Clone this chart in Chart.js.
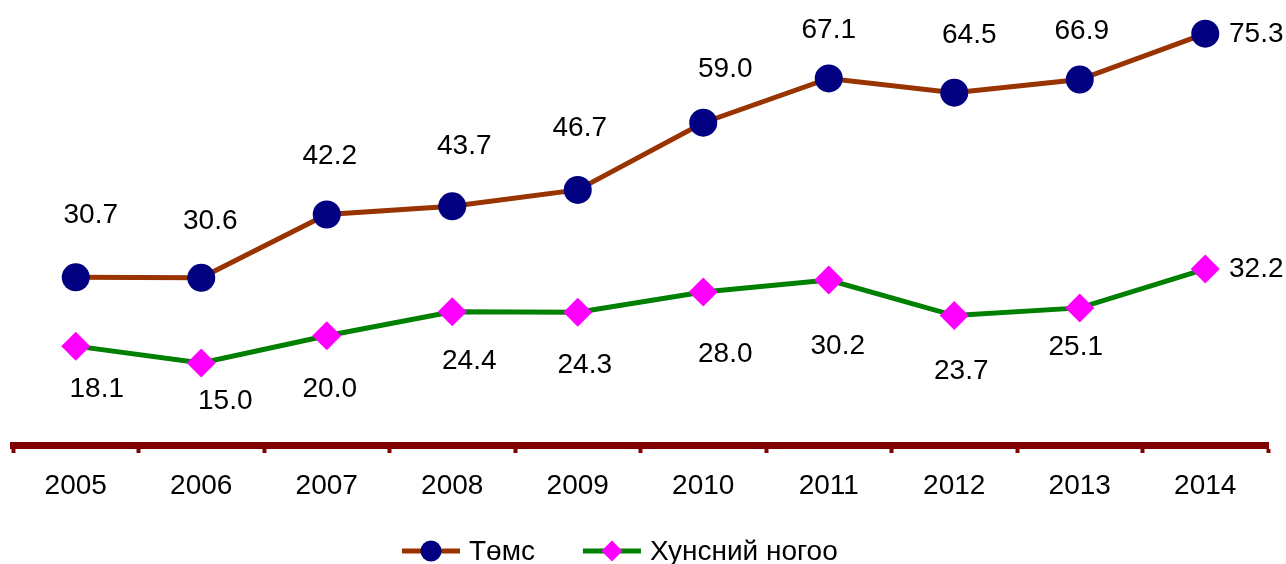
<!DOCTYPE html>
<html>
<head>
<meta charset="utf-8">
<script src="https://cdn.jsdelivr.net/npm/chart.js@4.4.0/dist/chart.umd.min.js"></script>
<style>
html,body{margin:0;padding:0;background:#ffffff;}
#wrap{width:1286px;height:564px;position:relative;}
</style>
</head>
<body>
<div id="wrap"><canvas id="c"></canvas></div>
<script>
// ---- data ----
const years = ['2005','2006','2007','2008','2009','2010','2011','2012','2013','2014'];
const temsValues  = [30.7, 30.6, 42.2, 43.7, 46.7, 59.0, 67.1, 64.5, 66.9, 75.3];
const greenValues = [18.1, 15.0, 20.0, 24.4, 24.3, 28.0, 30.2, 23.7, 25.1, 32.2];
const seriesNames = ['Төмс', 'Хунсний ногоо'];
const yMin = 0;
const yMax = 80;

// ---- styling (label placement offsets in px, not data) ----
const FONT = '"Liberation Sans", Arial, Helvetica, sans-serif';
const labelOffsets = [
  [[15,-63],[9,-58],[3,-59],[12,-61],[2,-63],[22,-54],[0,-49],[15,-58],[2,-49],[51,0]],
  [[21,42],[24,37],[3,53],[17,49],[7,52],[22,61],[9,65],[7,55],[-4,38],[51,-1]]
];

const dataLabelPlugin = {
  id: 'dataLabels',
  afterDatasetsDraw(chart) {
    const ctx = chart.ctx;
    ctx.save();
    ctx.font = '28px ' + FONT;
    ctx.fillStyle = '#000000';
    ctx.textAlign = 'center';
    ctx.textBaseline = 'middle';
    chart.data.datasets.forEach((ds, di) => {
      const meta = chart.getDatasetMeta(di);
      meta.data.forEach((pt, i) => {
        const off = labelOffsets[di][i];
        ctx.fillText(ds.data[i].toFixed(1), pt.x + off[0], pt.y + off[1] + 1);
      });
    });
    ctx.restore();
  }
};

function drawMarker(ctx, style, x, y, r) {
  ctx.beginPath();
  if (style === 'circle') {
    ctx.arc(x, y, r, 0, Math.PI * 2);
  } else {
    ctx.moveTo(x, y - r);
    ctx.lineTo(x + r, y);
    ctx.lineTo(x, y + r);
    ctx.lineTo(x - r, y);
    ctx.closePath();
  }
  ctx.fill();
}

const legendPlugin = {
  id: 'customLegend',
  afterDraw(chart) {
    const ctx = chart.ctx;
    ctx.save();
    ctx.font = '28px ' + FONT;
    ctx.textAlign = 'left';
    ctx.textBaseline = 'middle';
    let x = 402;
    const y = 551;
    chart.data.datasets.forEach(ds => {
      ctx.strokeStyle = ds.borderColor;
      ctx.lineWidth = 5;
      ctx.beginPath();
      ctx.moveTo(x, y);
      ctx.lineTo(x + 58, y);
      ctx.stroke();
      ctx.fillStyle = ds.pointBackgroundColor;
      drawMarker(ctx, ds.pointStyle, x + 29, y, 10.5);
      ctx.fillStyle = '#000000';
      ctx.fillText(ds.label, x + 67, y + 1);
      x = x + 67 + ctx.measureText(ds.label).width + 48;
    });
    ctx.restore();
  }
};

new Chart(document.getElementById('c'), {
  type: 'line',
  data: {
    labels: years,
    datasets: [
      {
        label: seriesNames[0],
        data: temsValues,
        borderColor: '#993300',
        borderWidth: 5,
        tension: 0,
        pointStyle: 'circle',
        pointRadius: 14,
        pointHoverRadius: 14,
        pointBorderWidth: 0,
        pointBackgroundColor: '#000080',
        pointBorderColor: '#000080'
      },
      {
        label: seriesNames[1],
        data: greenValues,
        borderColor: '#008000',
        borderWidth: 5,
        tension: 0,
        pointStyle: 'rectRot',
        pointRadius: 14.5,
        pointHoverRadius: 14.5,
        pointBorderWidth: 0,
        pointBackgroundColor: '#ff00ff',
        pointBorderColor: '#ff00ff'
      }
    ]
  },
  options: {
    responsive: true,
    maintainAspectRatio: false,
    animation: false,
    events: [],
    layout: { autoPadding: false, padding: { left: 13, right: 18, top: 8, bottom: 0 } },
    plugins: {
      legend: { display: false },
      tooltip: { enabled: false },
      title: { display: false }
    },
    scales: {
      x: {
        type: 'category',
        offset: true,
        grid: {
          offset: true,
          drawOnChartArea: false,
          drawTicks: true,
          tickLength: 8,
          tickWidth: 4,
          tickColor: '#800000'
        },
        border: { display: true, color: '#800000', width: 7 },
        ticks: {
          color: '#000000',
          font: { size: 28, family: FONT },
          padding: 16,
          maxRotation: 0,
          autoSkip: false
        },
        afterFit(scale) { scale.height = 119; }
      },
      y: {
        display: false,
        min: yMin,
        max: yMax
      }
    }
  },
  plugins: [dataLabelPlugin, legendPlugin]
});
</script>
</body>
</html>
